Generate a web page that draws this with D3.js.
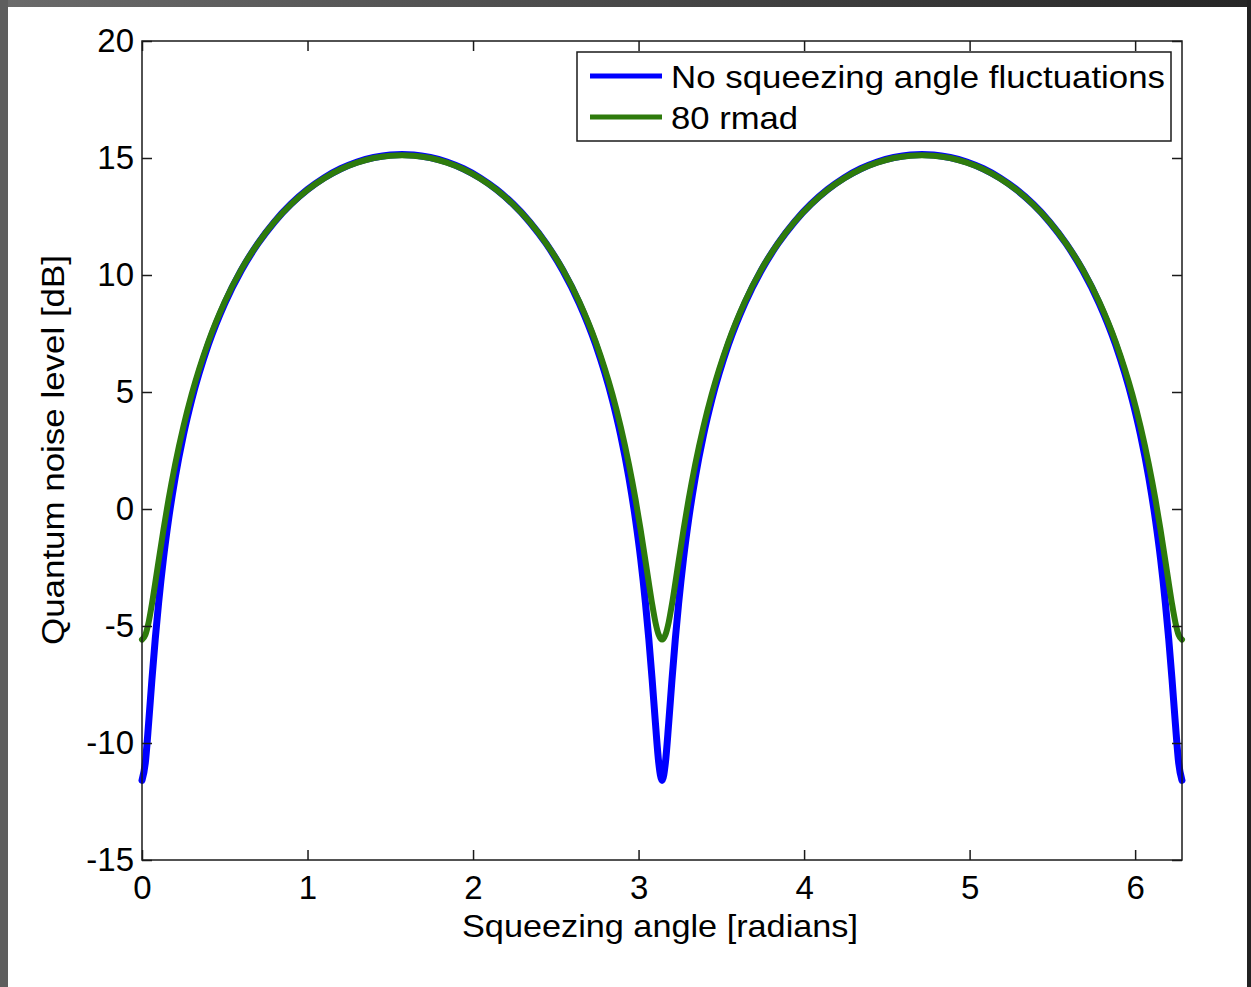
<!DOCTYPE html>
<html>
<head>
<meta charset="utf-8">
<script src="https://cdn.jsdelivr.net/npm/d3@7/dist/d3.min.js"></script>
<style>
  html, body { margin: 0; padding: 0; background: #fff; }
  svg { display: block; }
  text { font-family: "Liberation Sans", Arial, sans-serif; fill: #000; }
</style>
</head>
<body>
<svg id="chart" width="1251" height="987"></svg>
<script>
// squeezing angle (radians)
var angle = [
  0, 0.02, 0.04, 0.06, 0.08, 0.10, 0.13, 0.16, 0.20, 0.25, 0.30, 0.40, 0.50, 0.60, 0.70, 0.80, 0.90, 1.00, 1.10, 1.20, 1.30, 1.40, 1.50, 1.571,
  1.642, 1.742, 1.842, 1.942, 2.042, 2.142, 2.242, 2.342, 2.442, 2.542, 2.642, 2.742, 2.842, 2.892, 2.942, 2.982, 3.012, 3.042, 3.062, 3.082, 3.102, 3.122, 3.142,
  3.162, 3.182, 3.202, 3.222, 3.242, 3.272, 3.302, 3.342, 3.392, 3.442, 3.542, 3.642, 3.742, 3.842, 3.942, 4.042, 4.142, 4.242, 4.342, 4.442, 4.542, 4.642, 4.712,
  4.783, 4.883, 4.983, 5.083, 5.183, 5.283, 5.383, 5.483, 5.583, 5.683, 5.783, 5.883, 5.983, 6.033, 6.083, 6.123, 6.153, 6.183, 6.203, 6.223, 6.243, 6.263, 6.283
];

// no squeezing angle fluctuations (dB)
var noFluct = [
  -11.6, -10.85, -9.16, -7.29, -5.56, -4.04, -2.09, -0.47, 1.33, 3.16, 4.66, 7.01, 8.79, 10.20, 11.34, 12.27, 13.03, 13.65, 14.15, 14.54, 14.83, 15.02, 15.13, 15.15,
  15.13, 15.02, 14.83, 14.54, 14.15, 13.65, 13.03, 12.27, 11.34, 10.20, 8.79, 7.01, 4.66, 3.16, 1.33, -0.47, -2.09, -4.04, -5.56, -7.29, -9.16, -10.85, -11.6,
  -10.85, -9.16, -7.29, -5.56, -4.04, -2.09, -0.47, 1.33, 3.16, 4.66, 7.01, 8.79, 10.20, 11.34, 12.27, 13.03, 13.65, 14.15, 14.54, 14.83, 15.02, 15.13, 15.15,
  15.13, 15.02, 14.83, 14.54, 14.15, 13.65, 13.03, 12.27, 11.34, 10.20, 8.79, 7.01, 4.66, 3.16, 1.33, -0.47, -2.09, -4.04, -5.56, -7.29, -9.16, -10.85, -11.6
];

// 80 mrad fluctuations (dB)
var rmad80 = [
  -5.58, -5.38, -4.84, -4.06, -3.16, -2.23, -0.87, 0.40, 1.90, 3.52, 4.90, 7.13, 8.86, 10.24, 11.35, 12.27, 13.02, 13.64, 14.13, 14.52, 14.80, 15.00, 15.10, 15.12,
  15.10, 15.00, 14.80, 14.52, 14.13, 13.64, 13.02, 12.27, 11.35, 10.24, 8.86, 7.13, 4.90, 3.52, 1.90, 0.40, -0.87, -2.23, -3.16, -4.06, -4.84, -5.38, -5.58,
  -5.38, -4.84, -4.06, -3.16, -2.23, -0.87, 0.40, 1.90, 3.52, 4.90, 7.13, 8.86, 10.24, 11.35, 12.27, 13.02, 13.64, 14.13, 14.52, 14.80, 15.00, 15.10, 15.12,
  15.10, 15.00, 14.80, 14.52, 14.13, 13.64, 13.02, 12.27, 11.35, 10.24, 8.86, 7.13, 4.90, 3.52, 1.90, 0.40, -0.87, -2.23, -3.16, -4.06, -4.84, -5.38, -5.58
];

var xTicks = [0, 1, 2, 3, 4, 5, 6];
var yTicks = [-15, -10, -5, 0, 5, 10, 15, 20];

var seriesNames = ["No squeezing angle fluctuations", "80 rmad"];
var seriesColors = ["#0000ff", "#2e7b0c"];

var chart = {};

chart.draw = function(){
  var svg = d3.select("#chart");

  // screenshot frame
  var grad = svg.append("defs").append("linearGradient").attr("id", "topgrad");
  grad.append("stop").attr("offset", "0%").attr("stop-color", "#6b6b6b");
  grad.append("stop").attr("offset", "100%").attr("stop-color", "#262626");
  svg.append("rect").attr("x", 0).attr("y", 0).attr("width", 1251).attr("height", 7).attr("fill", "url(#topgrad)");
  svg.append("rect").attr("x", 0).attr("y", 0).attr("width", 8).attr("height", 987).attr("fill", "#5e5e5e");
  svg.append("rect").attr("x", 1247).attr("y", 0).attr("width", 4).attr("height", 987).attr("fill", "#222");

  var pL = 142, pR = 1182, pT = 41, pB = 860;

  var x = d3.scaleLinear().domain([0, 2 * Math.PI]).range([pL, pR]);
  var y = d3.scaleLinear().domain([-15, 20]).range([pB, pT]);

  var g = svg.append("g");

  // curves
  var line = d3.line()
    .x(function(d){ return x(d[0]); })
    .y(function(d){ return y(d[1]); })
    .curve(d3.curveMonotoneX);

  var series = [noFluct, rmad80];
  var widths = [7, 6];
  for (var s = 0; s < series.length; s++){
    var pts = angle.map(function(a, i){ return [a, series[s][i]]; });
    g.append("path")
      .attr("d", line(pts))
      .attr("fill", "none")
      .attr("stroke", seriesColors[s])
      .attr("stroke-width", widths[s])
      .attr("stroke-linejoin", "round")
      .attr("stroke-linecap", "round");
  }

  // box and axes (ticks inside, on all sides)
  var axisStyle = function(sel){
    sel.select(".domain").remove();
    sel.selectAll(".tick line").attr("stroke", "#1a1a1a").attr("stroke-width", 1.5);
  };
  var plain = function(d){ return String(d); };   // hyphen minus, like matlab

  g.append("g").attr("transform", "translate(0," + pB + ")")
    .call(d3.axisBottom(x).tickValues(xTicks).tickSize(-10).tickPadding(16).tickFormat(plain))
    .call(axisStyle)
    .selectAll("text").attr("font-size", 33).attr("font-family", "Liberation Sans, Arial, sans-serif").attr("fill", "#000");

  g.append("g").attr("transform", "translate(0," + pT + ")")
    .call(d3.axisTop(x).tickValues(xTicks).tickSize(-10).tickFormat(""))
    .call(axisStyle);

  g.append("g").attr("transform", "translate(" + pL + ",0)")
    .call(d3.axisLeft(y).tickValues(yTicks).tickSize(-10).tickPadding(8).tickFormat(plain))
    .call(axisStyle)
    .selectAll("text").attr("font-size", 33).attr("font-family", "Liberation Sans, Arial, sans-serif").attr("fill", "#000");

  g.append("g").attr("transform", "translate(" + pR + ",0)")
    .call(d3.axisRight(y).tickValues(yTicks).tickSize(-10).tickFormat(""))
    .call(axisStyle);

  g.append("rect")
    .attr("x", pL).attr("y", pT)
    .attr("width", pR - pL).attr("height", pB - pT)
    .attr("fill", "none").attr("stroke", "#1a1a1a").attr("stroke-width", 1.5);

  // axis titles
  svg.append("text")
    .attr("x", 462).attr("y", 937)
    .attr("font-size", 32)
    .attr("textLength", 396).attr("lengthAdjust", "spacingAndGlyphs")
    .text("Squeezing angle [radians]");

  svg.append("text")
    .attr("transform", "translate(64,645) rotate(-90)")
    .attr("font-size", 32)
    .attr("textLength", 390).attr("lengthAdjust", "spacingAndGlyphs")
    .text("Quantum noise level [dB]");

  // legend
  var lg = svg.append("g");
  lg.append("rect")
    .attr("x", 577).attr("y", 52).attr("width", 594).attr("height", 89)
    .attr("fill", "#fff").attr("stroke", "#1a1a1a").attr("stroke-width", 1.5);
  var textLens = [494, 127];
  seriesNames.forEach(function(name, i){
    var ly = 76 + i * 41;
    lg.append("line")
      .attr("x1", 590).attr("x2", 662).attr("y1", ly).attr("y2", ly)
      .attr("stroke", seriesColors[i]).attr("stroke-width", 5);
    lg.append("text")
      .attr("x", 671).attr("y", ly + 12)
      .attr("font-size", 32)
      .attr("textLength", textLens[i]).attr("lengthAdjust", "spacingAndGlyphs")
      .text(name);
  });
};

chart.draw();
</script>
</body>
</html>
